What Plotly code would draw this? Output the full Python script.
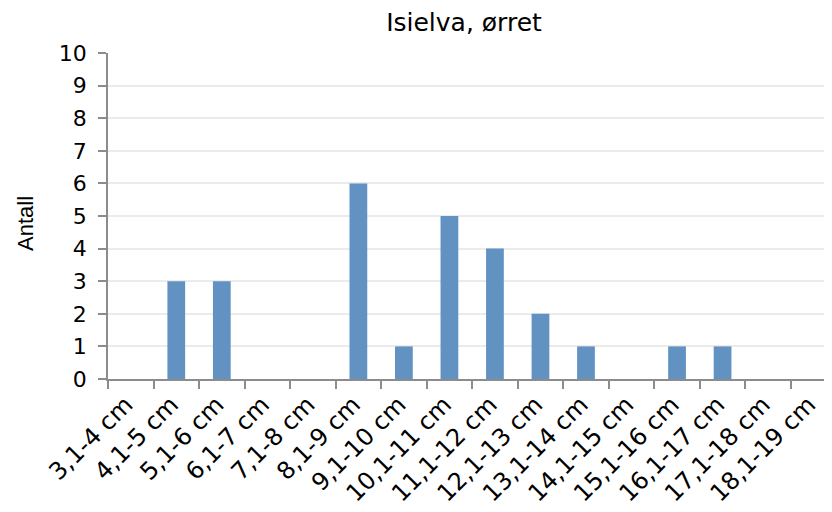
import plotly.graph_objects as go

categories = ["3,1-4 cm", "4,1-5 cm", "5,1-6 cm", "6,1-7 cm", "7,1-8 cm", "8,1-9 cm",
              "9,1-10 cm", "10,1-11 cm", "11,1-12 cm", "12,1-13 cm", "13,1-14 cm",
              "14,1-15 cm", "15,1-16 cm", "16,1-17 cm", "17,1-18 cm", "18,1-19 cm"]
values = [0, 3, 3, 0, 0, 6, 1, 5, 4, 2, 1, 0, 1, 1, 0, 0]
y_ticks = list(range(0, 11))

font_family = "DejaVu Sans, sans-serif"

W, H = 832, 512
L, T, B = 100, 45, 141
plot_w = W - L
plot_h = H - T - B

fig = go.Figure(go.Bar(
    x=categories, y=values,
    width=0.39,
    marker=dict(color="#6192C2", line=dict(width=0)),
))

fig.update_layout(
    width=W, height=H,
    margin=dict(l=L, r=0, t=T, b=B),
    paper_bgcolor="white", plot_bgcolor="white",
    showlegend=False,
    title=dict(text="Isielva, ørret", x=456 / W, xanchor="center", y=1 - 14 / H, yanchor="middle",
               font=dict(family=font_family, size=25, color="black")),
    font=dict(family=font_family, size=22, color="black"),
    annotations=[dict(
        text="Antall", textangle=-90, showarrow=False,
        xref="paper", yref="paper", x=(17 - L) / plot_w, y=(H - B - 216) / plot_h,
        xanchor="center", yanchor="middle",
        font=dict(family="Liberation Sans, Arial, sans-serif", size=22, color="black"),
    )],
)
fig.update_xaxes(
    type="category", range=[-0.5, 15.58], automargin=False,
    tickangle=-45, tickson="boundaries", ticks="outside", ticklen=8, tickwidth=2, tickcolor="#8c8c8c",
    showline=True, linecolor="#8c8c8c", linewidth=2,
    ticklabelshift=-5,
    showgrid=False, tickfont=dict(size=24, family=font_family, color="black"),
)
fig.update_yaxes(
    range=[0, 10], tickvals=y_ticks, ticks="outside", ticklen=8, tickwidth=1.5, tickcolor="#8c8c8c",
    showline=True, linecolor="#8c8c8c", linewidth=1.5, automargin=False,
    showgrid=True, gridcolor="#ebebeb", gridwidth=1.5, zeroline=False,
    ticklabelstandoff=7,
    tickfont=dict(size=22, family=font_family, color="black"),
)

fig.write_html("out.html")
